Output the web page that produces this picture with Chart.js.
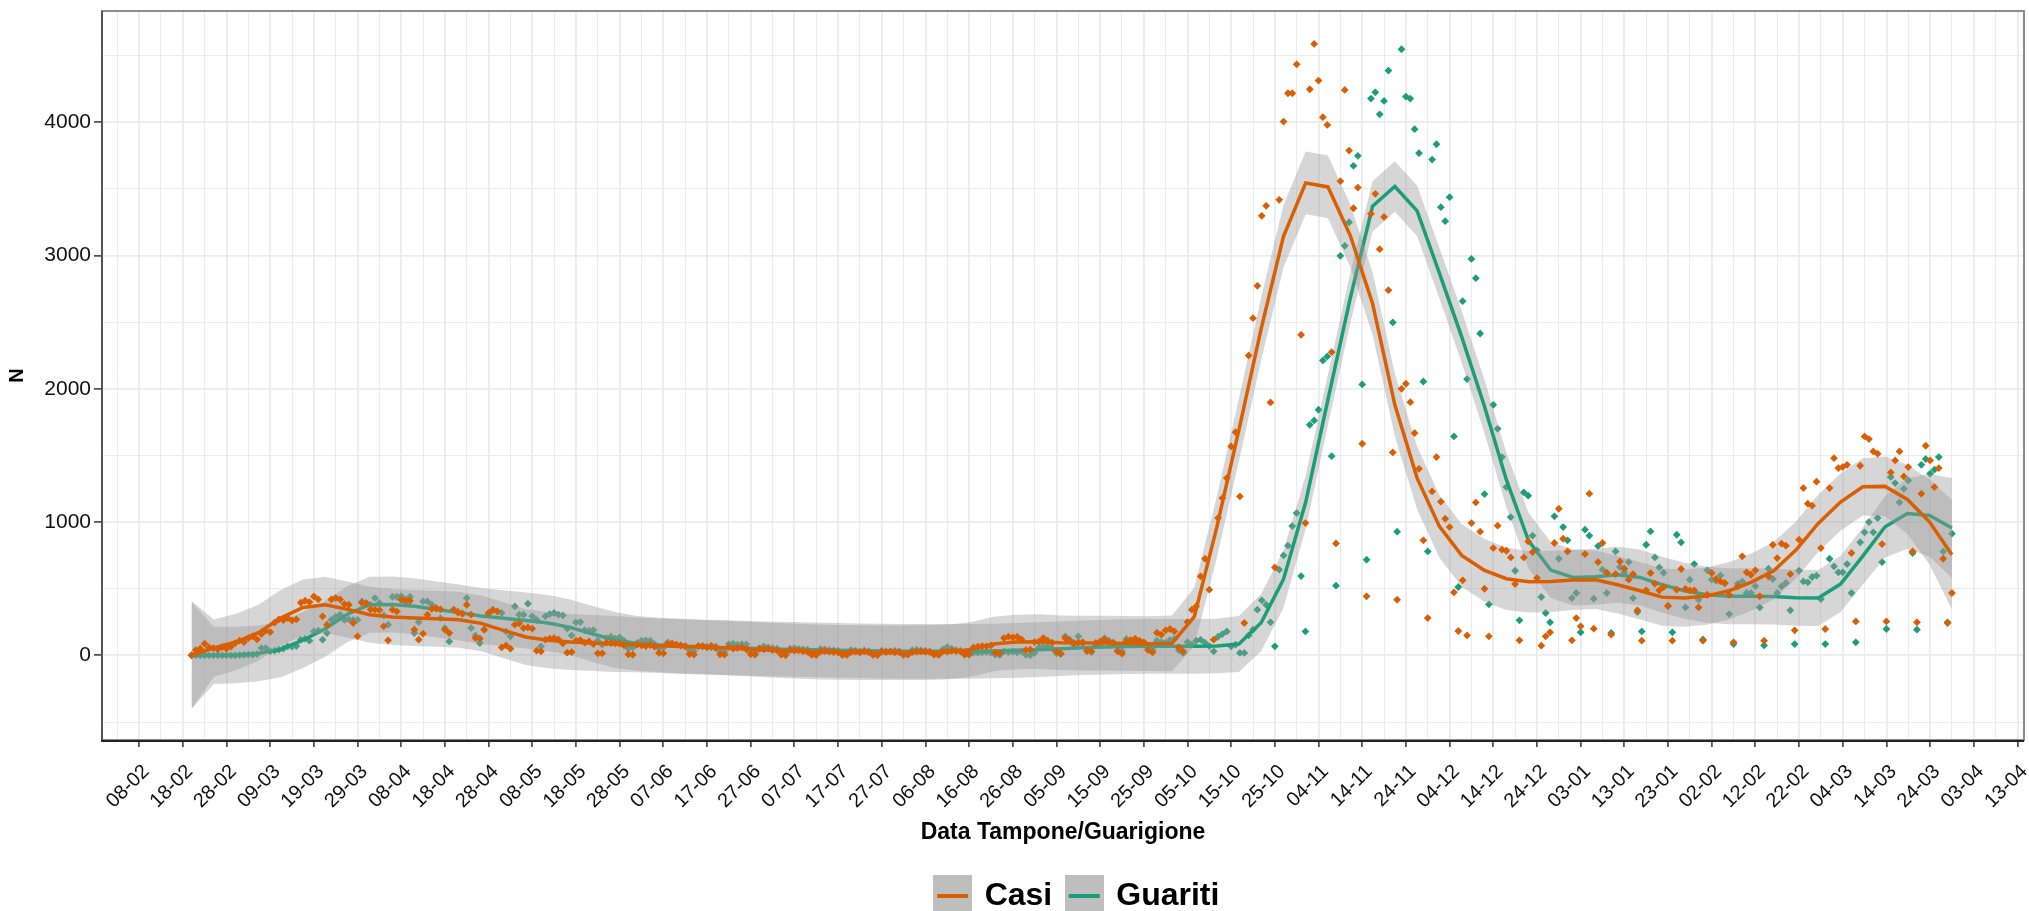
<!DOCTYPE html>
<html>
<head>
<meta charset="utf-8">
<title>Casi e Guariti</title>
<script src="https://cdn.jsdelivr.net/npm/chart.js@4.4.1/dist/chart.umd.min.js"></script>
<style>
  html, body { margin: 0; padding: 0; background: #fff; }
  #wrap { width: 2029px; height: 911px; position: relative; }
</style>
</head>
<body>
<div id="wrap"><canvas id="chartjs"></canvas></div>
<script>
// x = days since 08-02-2020; daily values start on 20-02-2020 (day 12)
const firstDay = 12;

const tickLabels = ['08-02','18-02','28-02','09-03','19-03','29-03','08-04','18-04','28-04','08-05',
    '18-05','28-05','07-06','17-06','27-06','07-07','17-07','27-07','06-08','16-08',
    '26-08','05-09','15-09','25-09','05-10','15-10','25-10','04-11','14-11','24-11',
    '04-12','14-12','24-12','03-01','13-01','23-01','02-02','12-02','22-02','04-03',
    '14-03','24-03','03-04','13-04'];
const yTicks = [0, 1000, 2000, 3000, 4000];

const casi = [
    0, 40, 50, 88, 60, 55, 45, 62, 50, 65,
    92, 110, 100, 130, 142, 120, 160, 185, 175, 245,
    270, 265, 280, 262, 270, 395, 410, 400, 442, 420,
    293, 230, 420, 430, 420, 385, 380, 243, 143, 395,
    390, 345, 343, 340, 218, 113, 343, 330, 418, 415,
    410, 193, 118, 163, 305, 350, 355, 345, 193, 168,
    343, 320, 315, 380, 305, 130, 125, 193, 318, 340,
    330, 60, 75, 50, 230, 240, 205, 210, 200, 35,
    30, 118, 125, 130, 120, 90, 20, 25, 110, 115,
    95, 105, 85, 15, 15, 95, 93, 90, 88, 75,
    8, 5, 80, 75, 70, 78, 65, 18, 15, 85,
    90, 80, 75, 70, 10, 5, 70, 68, 60, 72,
    55, 8, 5, 62, 50, 55, 60, 45, 8, 5,
    48, 45, 50, 40, 38, 5, 0, 40, 35, 38,
    30, 28, 3, 2, 30, 32, 28, 25, 22, 2,
    3, 25, 28, 22, 30, 25, 3, 2, 28, 25,
    30, 22, 24, 3, 5, 25, 28, 30, 27, 25,
    5, 3, 30, 28, 35, 32, 30, 5, 8, 60,
    65, 70, 68, 75, 20, 15, 130, 140, 135, 140,
    120, 40, 43, 100, 105, 130, 110, 95, 30, 13,
    130, 110, 93, 95, 100, 35, 30, 93, 105, 118,
    100, 95, 30, 13, 105, 115, 125, 110, 100, 40,
    23, 170, 155, 188, 198, 180, 60, 30, 250, 343,
    368, 593, 725, 493, 118, 1030, 1180, 1330, 1568, 1675,
    1193, 243, 2250, 2530, 2773, 3298, 3373, 1898, 660, 3418,
    4005, 4218, 4218, 4435, 2405, 993, 4248, 4588, 4313, 4038,
    3980, 2275, 840, 3558, 4243, 3788, 3355, 3510, 1588, 443,
    3313, 3463, 3048, 3290, 2740, 1523, 418, 2000, 2038, 1900,
    1668, 1400, 863, 280, 1230, 1488, 1153, 1025, 963, 473,
    183, 563, 150, 993, 1148, 928, 500, 143, 805, 973,
    793, 785, 735, 535, 113, 735, 855, 775, 580, 73,
    143, 173, 843, 1100, 875, 780, 113, 280, 218, 760,
    1213, 200, 700, 843, 620, 155, 610, 705, 650, 568,
    610, 338, 110, 488, 618, 538, 488, 513, 373, 110,
    493, 648, 498, 488, 488, 360, 110, 455, 618, 573,
    555, 543, 455, 98, 518, 743, 623, 605, 638, 443,
    110, 593, 830, 730, 838, 823, 610, 188, 868, 1255,
    1138, 1123, 1303, 805, 198, 1255, 1480, 1405, 1413, 1430,
    768, 255, 1423, 1643, 1623, 1530, 1513, 835, 255, 1373,
    1463, 1530, 1343, 1413, 780, 248, 1213, 1573, 1463, 1263,
    1405, 725, 243, 468
];

const guariti = [
    0, 0, 0, 0, 0, 0, 0, 0, 0, 0,
    0, 2, 3, 5, 5, 10, 55, 55, 30, 35,
    43, 50, 68, 65, 70, 118, 125, 110, 180, 185,
    118, 168, 267, 290, 305, 267, 270, 267, 267, 405,
    393, 380, 430, 393, 300, 230, 440, 440, 445, 400,
    440, 168, 250, 405, 405, 380, 350, 280, 205, 105,
    343, 330, 310, 430, 205, 150, 93, 193, 310, 343,
    330, 318, 180, 143, 367, 305, 305, 388, 293, 267,
    68, 293, 310, 318, 305, 300, 200, 150, 248, 250,
    190, 185, 190, 110, 80, 130, 140, 125, 135, 110,
    50, 60, 93, 110, 113, 110, 85, 55, 60, 98,
    85, 80, 75, 70, 40, 30, 70, 72, 65, 60,
    68, 30, 25, 85, 88, 80, 85, 82, 25, 20,
    55, 68, 60, 55, 50, 20, 15, 50, 55, 48,
    45, 42, 15, 12, 48, 45, 40, 38, 35, 8,
    5, 40, 35, 30, 38, 32, 5, 3, 35, 30,
    28, 35, 30, 5, 8, 40, 42, 38, 35, 30,
    10, 8, 45, 63, 50, 40, 35, 8, 5, 20,
    18, 22, 25, 20, 5, 3, 30, 25, 28, 22,
    30, 3, 0, 18, 60, 70, 65, 50, 15, 10,
    143, 120, 80, 143, 90, 30, 25, 75, 85, 130,
    110, 95, 35, 30, 123, 100, 110, 100, 95, 45,
    43, 110, 100, 95, 115, 123, 40, 18, 100, 80,
    110, 118, 95, 70, 30, 140, 160, 180, 68, 80,
    18, 18, 150, 193, 343, 413, 380, 248, 68, 643,
    750, 823, 970, 1068, 595, 180, 1730, 1763, 1843, 2213,
    2243, 1495, 523, 2998, 3073, 3250, 3673, 3748, 2033, 718,
    4178, 4225, 4060, 4160, 4388, 2498, 928, 4548, 4193, 4178,
    3948, 3768, 2055, 780, 3720, 3835, 3363, 3258, 3438, 1643,
    513, 2658, 2073, 2975, 2830, 2415, 1210, 383, 1880, 1700,
    1488, 1263, 1038, 635, 263, 1223, 1198, 898, 788, 438,
    318, 248, 1043, 725, 963, 863, 430, 468, 173, 943,
    898, 425, 820, 643, 468, 168, 780, 663, 623, 700,
    430, 325, 180, 830, 930, 735, 660, 620, 368, 173,
    905, 848, 360, 568, 685, 418, 120, 638, 568, 560,
    600, 540, 310, 85, 538, 555, 468, 468, 520, 360,
    75, 650, 573, 468, 518, 543, 338, 85, 635, 555,
    548, 588, 598, 423, 85, 725, 668, 623, 623, 685,
    468, 98, 848, 923, 1000, 923, 1030, 700, 198, 1338,
    1293, 1148, 1250, 1313, 768, 193, 1430, 1473, 1363, 1393,
    1488, 780, 248, 913
];

// smoothed curves (80 evenly spaced points from first to last day) and band half widths
const casiFit = [
    3, 55, 100, 170, 280, 360, 380, 345, 305, 288,
    280, 275, 268, 240, 188, 138, 113, 100, 92, 86,
    79, 72, 66, 61, 55, 48, 39, 32, 26, 23,
    21, 20, 20, 21, 26, 45, 85, 100, 103, 95,
    92, 92, 90, 88, 90, 290, 955, 1690, 2450, 3143,
    3545, 3515, 3150, 2640, 1880, 1330, 968, 750, 640, 575,
    552, 555, 566, 568, 530, 485, 437, 430, 445, 485,
    550, 635, 790, 990, 1150, 1265, 1268, 1170, 1000, 755
];
const guaritiFit = [
    0, 0, 3, 15, 45, 115, 200, 310, 380, 382,
    368, 345, 322, 295, 278, 262, 243, 210, 160, 115,
    90, 78, 70, 63, 58, 53, 48, 45, 42, 38,
    35, 32, 30, 30, 30, 30, 33, 38, 43, 50,
    57, 62, 66, 68, 68, 68, 70, 85, 245, 570,
    1150, 1920, 2680, 3370, 3518, 3335, 2868, 2390, 1880, 1320,
    860, 640, 585, 590, 605, 585, 530, 485, 455, 443,
    443, 442, 432, 430, 535, 745, 965, 1065, 1050, 955
];
const casiSe = [
    405, 215, 212, 210, 210, 210, 210, 210, 210, 210,
    210, 210, 210, 210, 210, 210, 210, 210, 210, 210,
    205, 205, 205, 205, 205, 205, 205, 205, 205, 205,
    205, 205, 205, 205, 205, 205, 205, 205, 205, 205,
    205, 205, 205, 205, 210, 220, 230, 235, 235, 235,
    235, 235, 235, 235, 235, 235, 235, 235, 235, 235,
    230, 230, 225, 220, 215, 215, 215, 215, 215, 215,
    215, 215, 215, 215, 215, 215, 225, 260, 320, 410
];
const guaritiSe = [
    400, 215, 212, 210, 210, 210, 210, 210, 210, 210,
    210, 210, 210, 210, 210, 210, 210, 210, 210, 210,
    205, 205, 205, 205, 205, 205, 205, 205, 205, 205,
    205, 205, 205, 205, 205, 205, 205, 205, 205, 205,
    205, 205, 205, 205, 205, 205, 205, 210, 215, 215,
    200, 190, 190, 190, 190, 190, 190, 195, 200, 205,
    210, 210, 210, 210, 210, 210, 210, 210, 210, 210,
    210, 210, 210, 210, 210, 215, 230, 265, 310, 375
];

const casiColor = '#D95F02';
const guaritiColor = '#1B9E77';
const bandColor = 'rgba(153,153,153,0.4)';
const FONT = "'Liberation Sans', Arial, sans-serif";

const lastDay = firstDay + casi.length - 1;
const toPoints = (arr) => arr.map((v, i) => ({ x: firstDay + i, y: v }));
const fitX = (i, n) => firstDay + i * (lastDay - firstDay) / (n - 1);
const fitPoints = (fit, se, sign) => fit.map((v, i) => ({ x: fitX(i, fit.length), y: v + sign * se[i] }));

function legendKey(color) {
    const c = document.createElement('canvas');
    c.width = 39; c.height = 42;
    const g = c.getContext('2d');
    g.fillStyle = '#bebebe';
    g.fillRect(0, 0, 39, 42);
    g.strokeStyle = color;
    g.lineWidth = 4;
    g.beginPath(); g.moveTo(4, 21); g.lineTo(35, 21); g.stroke();
    return c;
}

const panelBorder = {
    id: 'panelBorder',
    afterDatasetsDraw(chart) {
        const { ctx, chartArea: a } = chart;
        ctx.save();
        ctx.strokeStyle = '#8c8c8c';
        ctx.lineWidth = 2;
        ctx.strokeRect(a.left, a.top, a.right - a.left, a.bottom - a.top);
        ctx.strokeStyle = '#555';
        ctx.beginPath(); ctx.moveTo(a.left, a.top); ctx.lineTo(a.left, a.bottom + 1); ctx.stroke();
        ctx.strokeStyle = '#222';
        ctx.beginPath(); ctx.moveTo(a.left - 1, a.bottom + 1); ctx.lineTo(a.right, a.bottom + 1); ctx.stroke();
        ctx.restore();
    }
};

// centre the legend under the panel the way ggplot does
const legendShift = {
    id: 'legendShift',
    afterLayout(chart) {
        if (chart.legend) { chart.legend.left += 15; chart.legend.right += 15; }
    }
};

const chartNode = document.getElementById('chartjs').getContext('2d');

const pointDs = (label, arr, color, order) => ({
    label, data: toPoints(arr), showLine: false,
    pointStyle: 'rectRot', pointRadius: 3.9, pointBorderWidth: 0,
    pointBackgroundColor: color, pointHoverRadius: 0, order
});
const bandDs = (fit, se, sign, order, fill) => ({
    data: fitPoints(fit, se, sign), borderWidth: 0, pointRadius: 0,
    backgroundColor: bandColor, fill, order, tension: 0
});
const fitDs = (fit, color, order) => ({
    data: fit.map((v, i) => ({ x: fitX(i, fit.length), y: v })),
    borderColor: color, borderWidth: 3.5, pointRadius: 0, fill: false, order, tension: 0
});

const productChart = new Chart(chartNode, {
    type: 'line',
    data: {
        datasets: [
            pointDs('Guariti', guariti, guaritiColor, 60),
            bandDs(guaritiFit, guaritiSe, -1, 41, false),
            bandDs(guaritiFit, guaritiSe, 1, 40, '-1'),
            fitDs(guaritiFit, guaritiColor, 30),
            bandDs(casiFit, casiSe, -1, 21, false),
            bandDs(casiFit, casiSe, 1, 20, '-1'),
            pointDs('Casi', casi, casiColor, 15),
            fitDs(casiFit, casiColor, 10)
        ]
    },
    options: {
        responsive: true,
        maintainAspectRatio: false,
        animation: false,
        events: [],
        layout: { padding: { top: 11, right: 5, bottom: -11, left: 0 } },
        scales: {
            x: {
                type: 'linear',
                min: -8.5,
                max: 431.5,
                afterBuildTicks: (scale) => {
                    const t = [];
                    for (let v = -5; v <= 430; v += 5) t.push({ value: v });
                    scale.ticks = t;
                },
                afterFit: (scale) => { scale.height = 124; scale.paddingLeft = 0; scale.paddingRight = 0; },
                border: { display: false },
                grid: {
                    color: '#ebebeb',
                    lineWidth: (c) => (c.tick && c.tick.value % 10 === 0) ? 1.8 : 1,
                    tickColor: (c) => (c.tick && c.tick.value % 10 === 0) ? '#333' : 'rgba(0,0,0,0)',
                    tickLength: 7,
                    tickWidth: 1.5
                },
                ticks: {
                    autoSkip: false,
                    maxRotation: 45,
                    minRotation: 45,
                    padding: 13,
                    labelOffset: 7,
                    color: '#111',
                    font: { family: FONT, size: 20 },
                    callback: (value) => (value % 10 === 0 && value >= 0) ? tickLabels[value / 10] : ''
                },
                title: {
                    display: true,
                    text: 'Data Tampone/Guarigione',
                    color: '#000',
                    font: { family: FONT, size: 23, weight: 'bold' },
                    padding: { top: 0, bottom: 18 }
                }
            },
            y: {
                type: 'linear',
                min: -635,
                max: 4835,
                afterBuildTicks: (scale) => {
                    const t = [];
                    for (let v = -500; v <= 4500; v += 500) t.push({ value: v });
                    scale.ticks = t;
                },
                afterFit: (scale) => { scale.width = 102; scale.paddingTop = 0; scale.paddingBottom = 0; },
                border: { display: false },
                grid: {
                    color: '#ebebeb',
                    lineWidth: (c) => (c.tick && c.tick.value % 1000 === 0) ? 1.8 : 1,
                    tickColor: (c) => (c.tick && yTicks.includes(c.tick.value)) ? '#333' : 'rgba(0,0,0,0)',
                    tickLength: 8,
                    tickWidth: 1.5
                },
                ticks: {
                    padding: 3,
                    color: '#111',
                    font: { family: FONT, size: 21 },
                    callback: (value) => yTicks.includes(value) ? String(value) : ''
                },
                title: {
                    display: true,
                    text: 'N',
                    color: '#000',
                    font: { family: FONT, size: 20, weight: 'bold' },
                    padding: { top: 5, bottom: 0 }
                }
            }
        },
        plugins: {
            tooltip: { enabled: false },
            legend: {
                position: 'bottom',
                fullSize: false,
                labels: {
                    usePointStyle: true,
                    padding: 16,
                    color: '#000',
                    font: { family: FONT, size: 32, weight: 'bold' },
                    generateLabels: () => [
                        { text: 'Casi', pointStyle: legendKey(casiColor), fillStyle: '#bebebe', strokeStyle: '#bebebe', lineWidth: 0, hidden: false, datasetIndex: 6 },
                        { text: 'Guariti', pointStyle: legendKey(guaritiColor), fillStyle: '#bebebe', strokeStyle: '#bebebe', lineWidth: 0, hidden: false, datasetIndex: 0 }
                    ]
                }
            }
        }
    },
    plugins: [panelBorder, legendShift]
});
</script>
</body>
</html>
